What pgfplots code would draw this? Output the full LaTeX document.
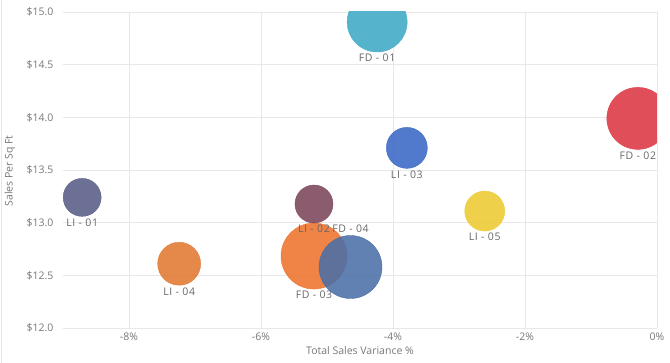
\documentclass[border=0pt]{standalone}
\usepackage{fontspec}
\setmainfont{Open Sans}
\usepackage{pgfplots}
\pgfplotsset{compat=1.18}
\definecolor{gridc}{HTML}{E8E8E8}
\definecolor{tickc}{HTML}{777777}
\definecolor{labc}{HTML}{666666}
\definecolor{cLIa}{HTML}{5C6189}
\definecolor{cLId}{HTML}{E17C36}
\definecolor{cLIb}{HTML}{7D4A5D}
\definecolor{cFDc}{HTML}{EE7532}
\definecolor{cFDd}{HTML}{4A6FA6}
\definecolor{cLIc}{HTML}{3E6BC6}
\definecolor{cFDa}{HTML}{43ACC6}
\definecolor{cLIe}{HTML}{EDCB36}
\definecolor{cFDb}{HTML}{DD3C47}
\newcommand{\lab}{\fontsize{10.5}{12}\selectfont\addfontfeatures{LetterSpace=6}}
\pgfplotsset{
  bub/.style n args={3}{color=#1, only marks, mark=*, mark size=#2pt,
    mark options={fill=#1, draw=none, fill opacity=0.9},
    nodes near coords={#3},
    every node near coord/.style={anchor=north, inner sep=1pt, yshift=-#2pt-1pt, text=labc, font=\lab, opacity=1, fill opacity=1, text opacity=1}},
  bubup/.style n args={3}{color=#1, only marks, mark=*, mark size=#2pt,
    mark options={fill=#1, draw=none, fill opacity=0.88},
    nodes near coords={#3},
    every node near coord/.style={anchor=south, inner sep=1pt, yshift=#2pt+2pt, text=labc, font=\lab, opacity=1, fill opacity=1, text opacity=1}},
}
\begin{document}
\begin{tikzpicture}[x=1pt,y=1pt]
\path[use as bounding box] (0,0) rectangle (670,363);
\draw[gridc, line width=0.8pt] (1.5,0) -- (1.5,363);
\node[rotate=90, font=\fontsize{10.5}{12}\selectfont, text=tickc, inner sep=0pt] at (10,192) {Sales Per Sq Ft};
\begin{axis}[
  at={(63pt,35pt)}, anchor=south west,
  scale only axis, width=594pt, height=316pt,
  xmin=-9, xmax=0, ymin=12, ymax=15,
  axis line style={draw=none},
  tick style={draw=none},
  grid=major,
  major grid style={gridc, line width=0.8pt},
  xtick={-8,-6,-4,-2,0},
  xticklabels={-8\%,-6\%,-4\%,-2\%,0\%},
  ytick={12,12.5,13,13.5,14,14.5,15},
  yticklabels={\$12.0,\$12.5,\$13.0,\$13.5,\$14.0,\$14.5,\$15.0},
  tick label style={font=\fontsize{10.5}{12}\selectfont, text=tickc},
  yticklabel style={xshift=-6pt},
  xticklabel style={yshift=-1pt},
  xlabel={Total Sales Variance \%},
  label style={font=\fontsize{10.5}{12}\selectfont, text=tickc},
  xlabel style={yshift=1pt},
  clip marker paths=true,
  clip=true,
]
\addplot[bub={cFDc}{33}{FD - 03}] coordinates {(-5.197,12.683)};
\addplot[bubup={cFDd}{31.5}{FD - 04}] coordinates {(-4.644,12.579)};
\addplot[bub={cLIb}{19}{LI - 02}] coordinates {(-5.197,13.177)};
\addplot[bub={cLIa}{19}{LI - 01}] coordinates {(-8.71,13.24)};
\addplot[bub={cLId}{21.5}{LI - 04}] coordinates {(-7.24,12.61)};
\addplot[bub={cLIc}{20.5}{LI - 03}] coordinates {(-3.79,13.71)};
\addplot[bub={cFDa}{30}{FD - 01}] coordinates {(-4.24,14.905)};
\addplot[bub={cLIe}{20}{LI - 05}] coordinates {(-2.61,13.11)};
\addplot[bub={cFDb}{31}{FD - 02}] coordinates {(-0.29,13.99)};
\end{axis}
\end{tikzpicture}
\end{document}
